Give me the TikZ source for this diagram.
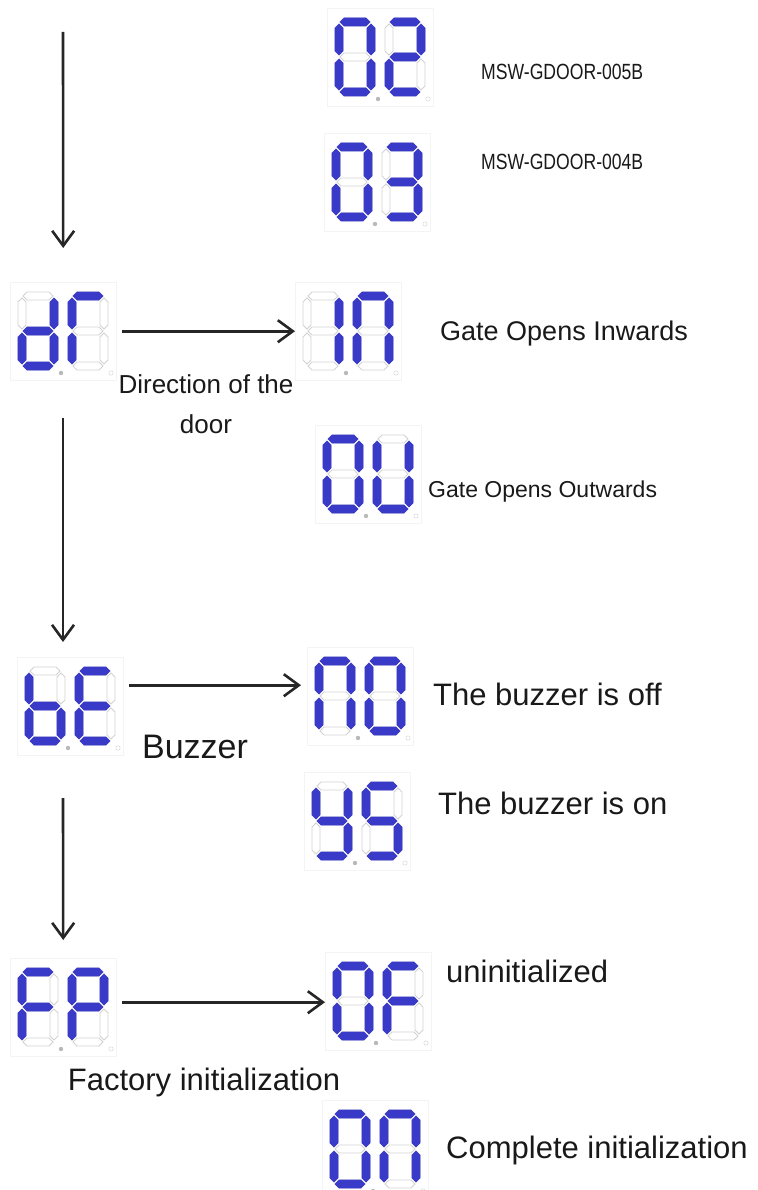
\documentclass[tikz,border=0pt]{standalone}
\usepackage{fontspec}
\setmainfont{Liberation Sans}
\usetikzlibrary{arrows.meta}

\definecolor{segblue}{RGB}{58,58,200}

\tikzset{
    seg/.style={},
    segon/.style={fill=segblue, draw=segblue, line width=0.6pt},
    segoff/.style={fill=white, draw=gray!35, line width=0.8pt},
    panel/.style={draw=gray!9, anchor=north west, inner sep=0pt, minimum width=106pt, minimum height=98pt},
    arr/.style={line width=2.6pt, draw=black!85, -{Straight Barb[length=15pt,width=22pt]}},
    lbl/.style={anchor=west, inner sep=0pt, text=black!90, font=\fontsize{31}{35}\selectfont},
}

\newcommand{\hseg}[2]{\path[seg, shift={(#1,#2)}] (0,0) -- (4,-4) -- (26,-4) -- (30,0) -- (26,4) -- (4,4) -- cycle;}
\newcommand{\vseg}[2]{\path[seg, shift={(#1,#2)}] (0,0) -- (4,4) -- (4,27) -- (0,31) -- (-4,27) -- (-4,4) -- cycle;}
\newcommand{\lcda}{\hseg{5}{4}}
\newcommand{\lcdb}{\vseg{36}{6}}
\newcommand{\lcdc}{\vseg{36}{41}}
\newcommand{\lcdd}{\hseg{5}{74}}
\newcommand{\lcde}{\vseg{4}{41}}
\newcommand{\lcdf}{\vseg{4}{6}}
\newcommand{\lcdg}{\hseg{5}{39}}

\newcommand{\lcddigit}[3]{%
    \begin{scope}[shift={(#1,#2)}]
        \begin{scope}[seg/.style=segoff]
            \foreach \s in {a,b,c,d,e,f,g} {\csname lcd\s\endcsname}
        \end{scope}
        \begin{scope}[seg/.style=segon]
            \foreach \s in {#3} {\csname lcd\s\endcsname}
        \end{scope}
    \end{scope}}

\newcommand{\lcdpanel}[3]{%
    \begin{scope}[shift={(#1.north west)}]
        \lcddigit{8}{10}{#2}
        \lcddigit{58}{10}{#3}
        \fill[gray!55] (51,91) circle (2.2pt);
        \draw[gray!35] (101,91) circle (2.2pt);
    \end{scope}}

\begin{document}
\begin{tikzpicture}[x=1pt, y=-1pt]
            \useasboundingbox[fill=white] (0,0) rectangle (757,1190);

            \node[panel] (p02) at (327, 8) {};
            \node[panel] (p03) at (324, 133) {};
            \node[panel] (dr) at (10, 282) {};
            \node[panel] (in) at (295, 282) {};
            \node[panel] (ou) at (315, 425) {};
            \node[panel] (be) at (17, 657) {};
            \node[panel] (no) at (307, 647) {};
            \node[panel] (ys) at (304, 772) {};
            \node[panel] (fp) at (10, 958) {};
            \node[panel] (of) at (325, 952) {};
            \node[panel] (on) at (322, 1100) {};

            \lcdpanel{p02}{a,b,c,d,e,f}{a,b,d,e,g}
            \lcdpanel{p03}{a,b,c,d,e,f}{a,b,c,d,g}
            \lcdpanel{dr}{b,c,d,e,g}{a,e,f}
            \lcdpanel{in}{b,c}{a,b,c,e,f}
            \lcdpanel{ou}{a,b,c,d,e,f}{b,c,d,e,f}
            \lcdpanel{be}{c,d,e,f,g}{a,d,e,f,g}
            \lcdpanel{no}{a,b,c,e,f}{a,b,c,d,e,f}
            \lcdpanel{ys}{b,c,d,f,g}{a,c,d,f,g}
            \lcdpanel{fp}{a,e,f,g}{a,b,e,f,g}
            \lcdpanel{of}{a,b,c,d,e,f}{a,e,f,g}
            \lcdpanel{on}{a,b,c,d,e,f}{a,b,c,e,f}

            \node[lbl, font=\fontsize{22}{25}\selectfont] (m5) at (481, 72) {\scalebox{0.8}[1]{MSW-GDOOR-005B}};
            \node[lbl, font=\fontsize{22}{25}\selectfont] (m4) at (481, 162) {\scalebox{0.8}[1]{MSW-GDOOR-004B}};
            \node[lbl, font=\fontsize{27}{30}\selectfont] (gin) at (440, 334) {Gate Opens Inwards};
            \node[lbl, font=\fontsize{26}{40}\selectfont, anchor=center, align=center] (dir) at (206, 404) {Direction of the\\door};
            \node[lbl, font=\fontsize{23}{26}\selectfont] (gout) at (428, 492) {Gate Opens Outwards};
            \node[lbl] (boff) at (433, 694) {The buzzer is off};
            \node[lbl, font=\fontsize{34}{38}\selectfont, anchor=center] (buz) at (195, 747) {Buzzer};
            \node[lbl] (bon) at (438, 803) {The buzzer is on};
            \node[lbl] (uni) at (446, 971) {uninitialized};
            \node[lbl, anchor=center] (fac) at (204, 1082) {Factory initialization};
            \node[lbl] (com) at (446, 1150) {Complete initialization};

            \coordinate (s1) at (63, 32);
            \coordinate (s2) at (63, 418);
            \coordinate (s3) at (63, 798);

            \draw[arr] (s1) -- ([yshift=34pt]dr.north);
            \draw[arr] (s2) -- ([yshift=15pt]s2 |- be.north);
            \draw[arr] (s3) -- ([yshift=18pt]fp.north);

            \draw[arr] ([xshift=6pt]dr.east) -- (dr.east -| in.west);
            \draw[arr] ([xshift=6pt, yshift=21pt]be.east) -- ([xshift=-6pt, yshift=21pt]be.east -| no.west);
            \draw[arr] ([xshift=6pt, yshift=5pt]fp.east) -- ([yshift=5pt]fp.east -| of.west);
\end{tikzpicture}
\end{document}
